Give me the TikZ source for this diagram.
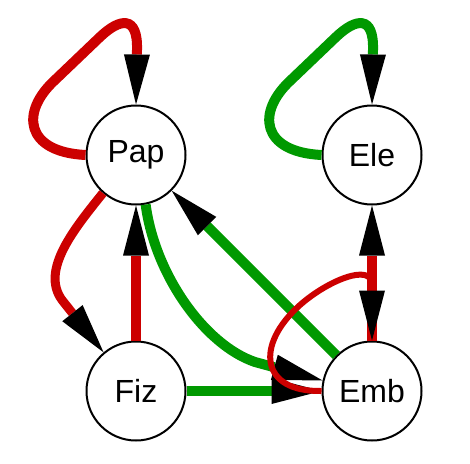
\documentclass[tikz,border=0pt]{standalone}
\usepackage{fontspec}
\setmainfont{Liberation Sans}
\usetikzlibrary{arrows.meta}
\definecolor{ered}{HTML}{CC0000}
\definecolor{egreen}{HTML}{009900}
\begin{document}
\begin{tikzpicture}[x=1pt,y=-1pt,
  vtx/.style={circle,draw=black,line width=2pt,fill=white,minimum size=99pt,inner sep=0pt,font=\fontsize{32}{38}\selectfont},
  headtip/.style={-{Triangle[length=50pt,width=26pt,line width=0pt,color=black]}},
  redE/.style={draw=ered,line width=10pt,headtip},
  greenE/.style={draw=egreen,line width=10pt,headtip},
  thinE/.style={draw=ered,line width=6pt,headtip}]
\useasboundingbox (0,0) rectangle (470,463);
\node[vtx] (Pap) at (136,155) {Pap};
\node[vtx] (Ele) at (372,155) {Ele};
\node[vtx] (Fiz) at (136,391) {Fiz};
\node[vtx] (Emb) at (372,391) {Emb};
% self loops
\draw[redE] (Pap.west) .. controls (25,152) and (20,112) .. (55,80) -- (100,37) .. controls (120,18) and (138,15) .. (137,50) -- (Pap.north);
\draw[greenE] (Ele.west) .. controls (261,152) and (256,112) .. (291,80) -- (336,37) .. controls (356,18) and (374,15) .. (373,50) -- (Ele.north);
% edges
\draw[redE,line width=9pt] (Pap.229) .. controls (75,228) and (40,270) .. (62,300) -- (Fiz.130);
\draw[redE] (Fiz) -- (Pap);
\draw[greenE] (Pap.281) .. controls (155,275) and (205,345) .. (255,362) -- (Emb.168);
\draw[greenE] (Emb) -- (Pap);
\draw[greenE] (Fiz) -- (Emb);
\draw[redE] (Emb) -- (Ele);
\draw[thinE] (Emb.west) .. controls (260,392) and (255,345) .. (300,305) .. controls (327,281) and (372,262) .. (372,285) -- (Emb.north);
\end{tikzpicture}
\end{document}
